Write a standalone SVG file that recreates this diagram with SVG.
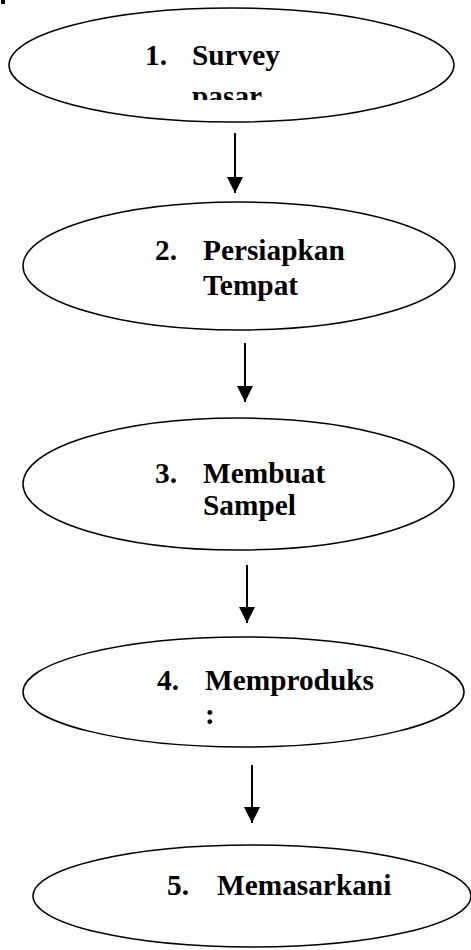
<svg xmlns="http://www.w3.org/2000/svg" width="471" height="950" viewBox="0 0 471 950">
<style>
.node ellipse{fill:#fff;stroke:#000;stroke-width:1.5}
.lbl{font-weight:bold;font-size:29.33px;fill:#000}
.conn line{stroke:#000;stroke-width:2}
</style>
<defs>
<marker id="ah" viewBox="0 0 16 16" refX="16" refY="8" markerWidth="16" markerHeight="16" markerUnits="userSpaceOnUse" orient="auto">
<path d="M0,0 L16,8 L0,16 Z" fill="#000"/>
</marker>
<clipPath id="c1"><rect x="0" y="0" width="471" height="100"/></clipPath>
</defs>
<rect x="1" y="0" width="4" height="4" fill="#000"/>
<g font-family="Liberation Serif, Times New Roman, serif">
<g id="n1" class="node">
<ellipse cx="231.5" cy="65" rx="222.5" ry="57"/>
<text class="lbl" x="145" y="65">1.</text>
<text class="lbl" x="192" y="65">Survey</text>
<text class="lbl" x="192" y="106" clip-path="url(#c1)">pasar</text>
</g>
<g id="n2" class="node">
<ellipse cx="239" cy="266" rx="216" ry="64"/>
<text class="lbl" x="155" y="260">2.</text>
<text class="lbl" x="203" y="260">Persiapkan</text>
<text class="lbl" x="203" y="295">Tempat</text>
</g>
<g id="n3" class="node">
<ellipse cx="238.5" cy="484" rx="215.5" ry="66"/>
<text class="lbl" x="155" y="483">3.</text>
<text class="lbl" x="203" y="483">Membuat</text>
<text class="lbl" x="203" y="515">Sampel</text>
</g>
<g id="n4" class="node">
<ellipse cx="243.5" cy="692" rx="220.5" ry="55"/>
<text class="lbl" x="157" y="690">4.</text>
<text class="lbl" x="205" y="690">Memproduks</text>
<text class="lbl" x="205" y="724">:</text>
</g>
<g id="n5" class="node">
<ellipse cx="252" cy="896" rx="219" ry="51"/>
<text class="lbl" x="167" y="895">5.</text>
<text class="lbl" x="217" y="895">Memasarkani</text>
</g>
</g>
<g id="connectors" class="conn">
<line x1="235" y1="133" x2="235" y2="193" marker-end="url(#ah)"/>
<line x1="245" y1="343" x2="245" y2="402" marker-end="url(#ah)"/>
<line x1="247" y1="565" x2="247" y2="623" marker-end="url(#ah)"/>
<line x1="252" y1="765" x2="252" y2="823" marker-end="url(#ah)"/>
</g>
</svg>
